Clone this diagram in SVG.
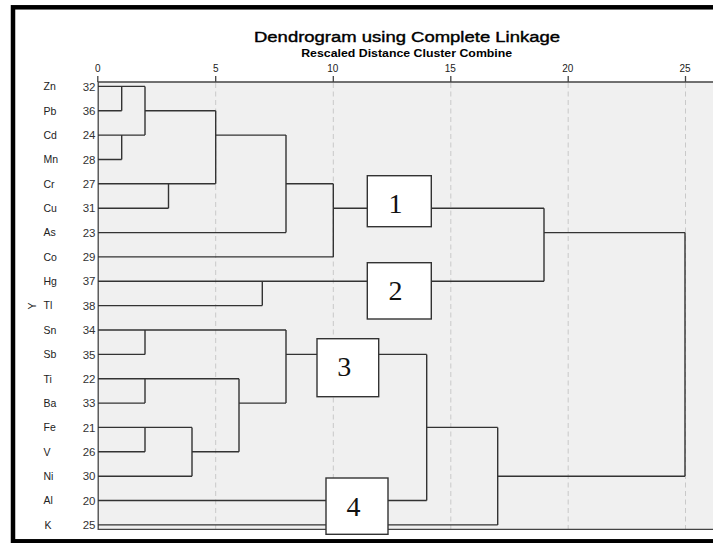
<svg xmlns="http://www.w3.org/2000/svg" width="713" height="543" viewBox="0 0 713 543">
<style>
.frame{fill:#ffffff;stroke:#000000;stroke-width:4.5}
.plot{fill:#f0f0f0;stroke:none}
.axis{stroke:#444;stroke-width:1.3;fill:none}
.grid{stroke:#c9c9c9;stroke-width:1;stroke-dasharray:5 3.5;fill:none}
.ln{stroke:#333;stroke-width:1.4;fill:none}
.box rect{fill:#ffffff;stroke:#333;stroke-width:1.4}
.box text{font-family:"Liberation Serif","Times New Roman",serif;font-size:28px;fill:#111;text-anchor:middle}
.t{font-family:"Liberation Sans",Arial,sans-serif;fill:#222}
.tick{font-size:10px;text-anchor:middle}
.lab{font-size:10.5px}
.num{font-size:11.5px;text-anchor:end;fill:#333}
</style>
<rect x="0" y="0" width="713" height="543" fill="#ffffff"/>
<rect class="frame" x="13" y="7.3" width="720" height="534"/>
<rect class="plot" x="98" y="82" width="615" height="447.3"/>
<g id="grid">
<path class="grid" d="M215.7 83V529M333.3 83V529M450.8 83V529M568.2 83V529M685.5 83V529"/>
</g>
<g id="axes">
<path class="axis" d="M97.5 82H713M98.2 82V530M98 529.3H713"/>
<path class="axis" d="M97.8 76V82M215.7 76V82M333.3 76V82M450.8 76V82M568.2 76V82M685.5 76V82"/>
</g>
<g id="title" class="t">
<text x="407" y="41.7" font-size="15.5" text-anchor="middle" textLength="306" lengthAdjust="spacingAndGlyphs" fill="#000" stroke="#000" stroke-width="0.4">Dendrogram using Complete Linkage</text>
<text x="406.7" y="56.7" font-size="10" font-weight="bold" text-anchor="middle" textLength="211" lengthAdjust="spacingAndGlyphs" fill="#000">Rescaled Distance Cluster Combine</text>
</g>
<g id="ticks" class="t tick">
<text x="97.8" y="71.7">0</text>
<text x="215.7" y="71.7">5</text>
<text x="332.8" y="71.7">10</text>
<text x="450.3" y="71.7">15</text>
<text x="567.7" y="71.7">20</text>
<text x="685" y="71.7">25</text>
</g>
<g id="ylabel" class="t">
<text transform="translate(36,306) rotate(-90)" font-size="10.5" text-anchor="middle">Y</text>
</g>
<g id="leaf-labels" class="t">
<g class="lab">
<text x="43.5" y="90.2">Zn</text>
<text x="43.5" y="114.6">Pb</text>
<text x="43.5" y="138.9">Cd</text>
<text x="43.5" y="163.3">Mn</text>
<text x="43.5" y="187.6">Cr</text>
<text x="43.5" y="212">Cu</text>
<text x="43.5" y="236.4">As</text>
<text x="43.5" y="260.7">Co</text>
<text x="43.5" y="285.1">Hg</text>
<text x="43.5" y="309.4">Tl</text>
<text x="43.5" y="333.8">Sn</text>
<text x="43.5" y="358.2">Sb</text>
<text x="43.5" y="382.5">Ti</text>
<text x="43.5" y="406.9">Ba</text>
<text x="43.5" y="431.2">Fe</text>
<text x="43.5" y="455.6">V</text>
<text x="43.5" y="480">Ni</text>
<text x="43.5" y="504.3">Al</text>
<text x="44.5" y="528.7">K</text>
</g>
<g class="num">
<text x="95.5" y="90.5">32</text>
<text x="95.5" y="114.9">36</text>
<text x="95.5" y="139.2">24</text>
<text x="95.5" y="163.6">28</text>
<text x="95.5" y="187.9">27</text>
<text x="95.5" y="212.3">31</text>
<text x="95.5" y="236.7">23</text>
<text x="95.5" y="261">29</text>
<text x="95.5" y="285.4">37</text>
<text x="95.5" y="309.7">38</text>
<text x="95.5" y="334.1">34</text>
<text x="95.5" y="358.5">35</text>
<text x="95.5" y="382.8">22</text>
<text x="95.5" y="407.2">33</text>
<text x="95.5" y="431.5">21</text>
<text x="95.5" y="455.9">26</text>
<text x="95.5" y="480.3">30</text>
<text x="95.5" y="504.6">20</text>
<text x="95.5" y="529">25</text>
</g>
</g>
<g id="connectors">
<path class="ln" d="M98 86.4H145M98 110.8H121.7M121.7 86.4V110.8M98 135.1H145M98 159.5H121.7M121.7 135.1V159.5M145 86.4V135.1M145 110.8H215.7M98 183.8H215.7M98 208.2H168.5M168.5 183.8V208.2M215.7 110.8V183.8M215.7 135.1H286M98 232.6H286M286 135.1V232.6M286 183.8H333.3M98 256.9H333.3M333.3 183.8V256.9M333.3 208.2H544M98 281.3H544M98 305.6H262.3M262.3 281.3V305.6M544 208.2V281.3M544 232.6H685M685 232.6V476.2"/>
<path class="ln" d="M98 330H286M98 354.4H145M145 330V354.4M98 378.7H239M98 403.1H145M145 378.7V403.1M98 427.4H192M98 451.8H145M145 427.4V451.8M98 476.2H192M192 427.4V476.2M192 451.8H239M239 378.7V451.8M239 403.1H286M286 330V403.1M286 354.4H426.7M98 500.5H426.7M426.7 354.4V500.5M426.7 427.4H497.7M98 524.9H497.7M497.7 427.4V524.9M497.7 476.2H685"/>
</g>
<g id="box1" class="box"><rect x="367.3" y="175.7" width="64" height="51"/><text x="395.5" y="213.3">1</text></g>
<g id="box2" class="box"><rect x="367.3" y="262.7" width="64" height="56.3"/><text x="395.5" y="300">2</text></g>
<g id="box3" class="box"><rect x="317" y="338.7" width="61.7" height="58"/><text x="344.3" y="376">3</text></g>
<g id="box4" class="box"><rect x="326" y="478" width="62" height="56.3"/><text x="353.5" y="516">4</text></g>
</svg>
